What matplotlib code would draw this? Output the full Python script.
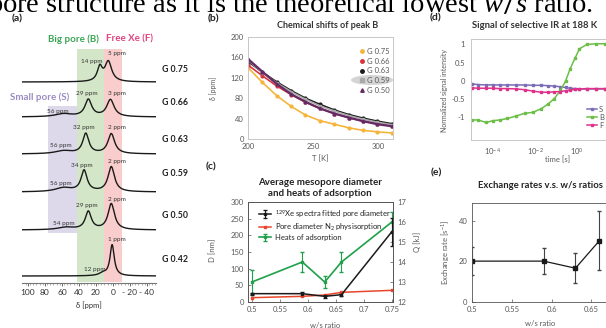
import matplotlib
matplotlib.use('Agg')
import matplotlib.pyplot as plt
import numpy as np
from matplotlib.lines import Line2D
from matplotlib.patches import Rectangle, Ellipse

plt.rcParams['font.family'] = ['Lato', 'DejaVu Sans']
plt.rcParams['mathtext.fontset'] = 'custom'
plt.rcParams['mathtext.rm'] = 'Lato'
plt.rcParams['mathtext.sf'] = 'Lato'
plt.rcParams['mathtext.it'] = 'Liberation Serif:italic'

# ---- data ----
# (a) 129Xe spectra: peaks as (position ppm, height, half width)
samples = ['G 0.75', 'G 0.66', 'G 0.63', 'G 0.59', 'G 0.50', 'G 0.42']
peaks = [
    [(15.5, 14, 3.5), (5.5, 20, 4.8)],
    [(58, 3, 12), (29, 17, 4.8), (3, 17, 5.2)],
    [(58, 3, 12), (32, 20, 4.3), (2, 20, 4.8)],
    [(58, 4, 12), (34, 21, 4.3), (2, 25, 4.6)],
    [(55, 2.5, 12), (29, 18, 4.3), (2, 26, 4.6)],
    [(12, 2.5, 5), (1, 31, 3.0)],
]
peak_labels = [
    [('14 ppm', 92, 62), ('5 ppm', 117, 53)],
    [('29 ppm', 87, 94), ('3 ppm', 117, 94), ('56 ppm', 58, 111)],
    [('32 ppm', 84, 127), ('2 ppm', 117, 127), ('56 ppm', 61, 146)],
    [('34 ppm', 82, 165), ('2 ppm', 117, 161), ('56 ppm', 61, 183)],
    [('29 ppm', 87, 206), ('2 ppm', 117, 199), ('54 ppm', 64, 224)],
    [('1 ppm', 117, 239), ('12 ppm', 95, 269)],
]

# (b) chemical shift of peak B vs temperature
T = [200, 211, 222, 233, 244, 255, 266, 277, 288, 299, 310]
shift_b = {
    'G 0.75': [140, 111, 85, 64, 47, 36, 29, 22, 17, 14, 12],
    'G 0.66': [145, 124, 104, 87, 72, 60, 50, 42, 35, 30, 26],
    'G 0.63': [152, 131, 112, 95, 80, 68, 57, 48, 41, 35, 30],
    'G 0.59': [155, 130, 110, 93, 78, 65, 55, 46, 39, 33, 28],
    'G 0.50': [157, 132, 108, 88, 73, 60, 50, 42, 35, 29, 25],
}

# (c) pore diameter and heats of adsorption
ws = [0.5, 0.59, 0.63, 0.66, 0.75]
d_xe = [25, 25, 17, 22, 211]
d_xe_err = [3, 6, 5, 5, 42]
d_n2 = [13, 17, 21, 29, 35]
q_heat = [13.0, 14.0, 13.0, 14.0, 16.0]
q_err = [0.6, 0.5, 0.3, 0.5, 0.5]

# (d) selective inversion recovery at 188 K
t_s = [1e-5, 2e-5, 5e-5, 1e-4, 2.2e-4, 5e-4, 1.3e-3, 3.2e-3, 8e-3, 0.02,
       0.04, 0.08, 0.16, 0.28, 0.45, 0.8, 1.26, 2.8, 8, 20]
sig_S = [-0.08, -0.1, -0.11, -0.11, -0.11, -0.11, -0.11, -0.11, -0.12, -0.12,
         -0.13, -0.14, -0.16, -0.18, -0.2, -0.21, -0.22, -0.22, -0.22, -0.22]
sig_B = [-1.07, -1.07, -1.14, -1.09, -1.07, -1.03, -0.96, -0.89, -0.86, -0.76,
         -0.64, -0.49, -0.26, 0.0, 0.32, 0.64, 0.88, 1.0, 1.02, 1.02]
sig_F = [-0.19, -0.2, -0.2, -0.2, -0.21, -0.21, -0.22, -0.24, -0.28, -0.31,
         -0.31, -0.3, -0.29, -0.27, -0.25, -0.23, -0.22, -0.21, -0.21, -0.21]

# (e) exchange rates
ws_e = [0.5, 0.59, 0.63, 0.66]
rate = [20, 20, 16.5, 30]
rate_err = [7, 6.5, 7.5, 14.5]

W, H = 606, 328
fig = plt.figure(figsize=(6.06, 3.28), dpi=100)


def box(l, t, r, b):
    return fig.add_axes([l / W, 1 - b / H, (r - l) / W, (b - t) / H])


def ftext(x, y, s, **kw):
    kw.setdefault('ha', 'center')
    kw.setdefault('va', 'center')
    fig.text(x / W, 1 - y / H, s, **kw)


gray = '#595959'

# top line of the page
ftext(-12, 12, 'pore structure as it is the theoretical lowest $\\mathit{w/s}$ ratio.',
      ha='left', va='baseline', fontsize=20.5, family='Liberation Serif')

# ---------------- (a) ----------------
ax = box(22, 40, 156, 283)
ax.set_xlim(107, -50.6)
ax.set_ylim(0, 243)
ax.add_patch(Rectangle((42, 50), 34.5, 127, color='#ddd9eb', lw=0))
ax.add_patch(Rectangle((11, 1), 31, 233, color='#d3e7c8', lw=0))
ax.add_patch(Rectangle((-11, 1), 22, 233, color='#f8cdcb', lw=0))
baselines = [201, 166, 129, 91, 53, 7]
x = np.linspace(107, -50, 700)
for base, pk in zip(baselines, peaks):
    y = np.full_like(x, base)
    for c, h, w in pk:
        y += h * w ** 2 / ((x - c) ** 2 + w ** 2)
    ax.plot(x, y, color='#1a1a1a', lw=1.0)
for s in ['left', 'right', 'top']:
    ax.spines[s].set_visible(False)
ax.spines['bottom'].set_color('#777777')
ax.set_yticks([])
ax.set_xticks([100, 80, 60, 40, 20, 0, -20, -40])
ax.set_xticklabels(['100', '80', '60', '40', '20', '0', '- 20', '- 40'])
ax.set_xticks(np.arange(-50, 106, 4), minor=True)
ax.tick_params(axis='x', labelsize=6, colors='#333333', length=2, width=0.5, pad=2)
ax.tick_params(axis='x', which='minor', length=1.5, width=0.4, color='#777777')
ftext(89, 305, 'δ [ppm]', fontsize=5.5, color='#333333')

for lab, yy in zip(samples, [69, 102, 140, 173, 215, 259]):
    ftext(162, yy, lab, ha='left', fontsize=6.3, fontweight='bold', color='#222222')
for row in peak_labels:
    for s, xx, yy in row:
        ftext(xx, yy, s, fontsize=4.6, color='#333333')
ftext(73, 39, 'Big pore (B)', fontsize=7, fontweight='bold', color='#3aa655')
ftext(130, 39, 'Free Xe (F)', fontsize=7, fontweight='bold', color='#e0457f')
ftext(40, 97, 'Small pore (S)', fontsize=7, fontweight='bold', color='#9a8cc4')

# ---------------- (b) ----------------
ax = box(248, 37, 393, 139)
colors_b = {'G 0.75': '#f5b53d', 'G 0.66': '#d8343c', 'G 0.63': '#1a1a1a',
            'G 0.59': '#a9a9a9', 'G 0.50': '#652a66'}
markers_b = {'G 0.75': 'o', 'G 0.66': 'o', 'G 0.63': 'o', 'G 0.59': 's', 'G 0.50': '^'}
for k, v in shift_b.items():
    ax.plot(T, v, color=colors_b[k], marker=markers_b[k], ms=2, lw=1.2 if k != 'G 0.50' else 1.6)
ax.set_xlim(200, 311)
ax.set_ylim(0, 200)
ax.set_yticks(range(0, 201, 40))
ax.set_xticks([200, 250, 300])
for s in ax.spines.values():
    s.set_color('#c8c8c8')
    s.set_linewidth(0.7)
ax.tick_params(labelsize=5.5, colors=gray, length=0, pad=3)
ax.add_artist(Ellipse((372 / W, 1 - 80 / H), 42 / W, 10 / H, transform=fig.transFigure,
                      color='#d5d5d5', lw=0, zorder=1))
handles = [Line2D([], [], color=colors_b[k], marker=markers_b[k], ms=2.5, lw=0) for k in shift_b]
leg = ax.legend(handles, list(shift_b), loc='upper left', bbox_to_anchor=(352 / W, 1 - 41 / H),
                bbox_transform=fig.transFigure, fontsize=5.5, frameon=False, handlelength=0.8,
                handletextpad=0.3, labelspacing=0.35, labelcolor=gray)
leg.set_zorder(6)
ftext(213, 88, 'δ [ppm]', fontsize=5, color=gray, rotation=90)
ftext(320, 159, 'T [K]', fontsize=5.5, color=gray)
ftext(328, 25, 'Chemical shifts of peak B', fontsize=6.5, fontweight='bold', color='#333333')

# ---------------- (c) ----------------
ax = box(248, 202, 393, 302)
ax2 = ax.twinx()
l1 = ax.errorbar(ws, d_xe, yerr=d_xe_err, color='#1a1a1a', marker='s', ms=2, lw=1.1,
                 capsize=1.5, elinewidth=0.8)
l2, = ax.plot(ws, d_n2, color='#e8462a', marker='s', ms=1.8, lw=1.1)
l3 = ax2.errorbar(ws, q_heat, yerr=q_err, color='#1fa04a', marker='s', ms=1.8, lw=1.2,
                  capsize=1.5, elinewidth=0.8)
ax.set_zorder(ax2.get_zorder() + 1)
ax.patch.set_visible(False)
ax.set_xlim(0.493, 0.752)
ax.set_ylim(0, 300)
ax2.set_ylim(12, 17)
ax.set_xticks([0.5, 0.55, 0.6, 0.65, 0.7, 0.75])
ax.set_xticklabels(['0.5', '0.55', '0.6', '0.65', '0.7', '0.75'])
ax.set_yticks(range(0, 301, 50))
for a in (ax, ax2):
    a.tick_params(labelsize=5.5, colors=gray, length=2, width=0.5, direction='in', pad=3)
    for s in a.spines.values():
        s.set_color('#555555')
        s.set_linewidth(0.6)
ax.legend([l1, l2, l3], ['$^{129}$Xe spectra fitted pore diameter', 'Pore diameter N$_2$ physisorption',
                         'Heats of adsorption'],
          loc='upper left', bbox_to_anchor=(0.03, 1.01), fontsize=5.5, frameon=False,
          handlelength=1.6, handletextpad=0.4, labelspacing=0.2, labelcolor='#222222')
ftext(213, 250, 'D [nm]', fontsize=5.5, color=gray, rotation=90)
ftext(417, 242, 'Q [kJ]', fontsize=5.5, color=gray, rotation=90)
ftext(325, 325, 'w/s ratio', fontsize=5.5, color=gray)
ftext(320, 182, 'Average mesopore diameter', fontsize=7, fontweight='bold', color='#222222')
ftext(320, 193, 'and heats of adsorption', fontsize=7, fontweight='bold', color='#222222')

# ---------------- (d) ----------------
ax = box(470.7, 39, 645, 140)
ax.plot(t_s, sig_S, color='#7b6cb6', marker='s', ms=1.6, lw=1.1, label='S')
ax.plot(t_s, sig_B, color='#6cbf46', marker='s', ms=1.6, lw=1.1, label='B')
ax.plot(t_s, sig_F, color='#e0318a', marker='s', ms=1.6, lw=1.1, label='F')
ax.set_xscale('log')
ax.set_xlim(10 ** -5.04, 10 ** 3.2)
ax.set_ylim(-1.62, 1.15)
ax.set_xticks([1e-4, 1e-2, 1e0])
ax.minorticks_off()
ax.set_yticks([-1, -0.5, 0, 0.5, 1])
ax.set_yticklabels(['-1', '-0.5', '0', '0.5', '1'])
for s in ax.spines.values():
    s.set_color('#c8c8c8')
    s.set_linewidth(0.7)
ax.tick_params(labelsize=5.5, colors=gray, length=0, pad=4)
ax.legend(loc='lower left', bbox_to_anchor=(580 / W, 1 - 136 / H), bbox_transform=fig.transFigure,
          fontsize=5.5, frameon=False, handlelength=1.3, handletextpad=0.3, labelspacing=0.15,
          labelcolor=gray)
ftext(444, 90, 'Normalized signal intensity', fontsize=5, color=gray, rotation=90)
ftext(558, 160, 'time [s]', fontsize=5.5, color=gray)
ftext(472, 25, 'Signal of selective IR at 188 K', ha='left', fontsize=6.8, fontweight='bold',
      color='#333333')

# ---------------- (e) ----------------
ax = box(471.7, 203.3, 608, 301.7)
ax.errorbar(ws_e, rate, yerr=rate_err, color='#1a1a1a', ecolor='#444444', marker='s', ms=2.2,
            lw=0.9, capsize=1.5, elinewidth=0.8)
ax.set_xlim(0.4993, 0.671)
ax.set_ylim(0, 48.5)
ax.set_yticks([0, 20, 40])
ax.set_xticks([0.5, 0.55, 0.6, 0.65])
ax.set_xticklabels(['0.5', '0.55', '0.6', '0.65'])
for s in ax.spines.values():
    s.set_color('#555555')
    s.set_linewidth(0.6)
ax.tick_params(labelsize=5.5, colors=gray, length=2, width=0.5, direction='in', pad=3)
ftext(445, 252, 'Exchange rate [s$^{-1}$]', fontsize=5.5, color=gray, rotation=90)
ftext(540, 323, 'w/s ratio', fontsize=5.5, color=gray)
ftext(478, 186, 'Exchange rates v.s. w/s ratios', ha='left', fontsize=6.8, fontweight='bold',
      color='#222222')

# panel letters
for lab, xx, yy in [('(a)', 17, 19), ('(b)', 213, 19), ('(c)', 211, 167), ('(d)', 435, 18), ('(e)', 436, 173)]:
    ftext(xx, yy, lab, fontsize=7.5, fontweight='bold', color='#222222')

fig.savefig('out.png', dpi=100)
